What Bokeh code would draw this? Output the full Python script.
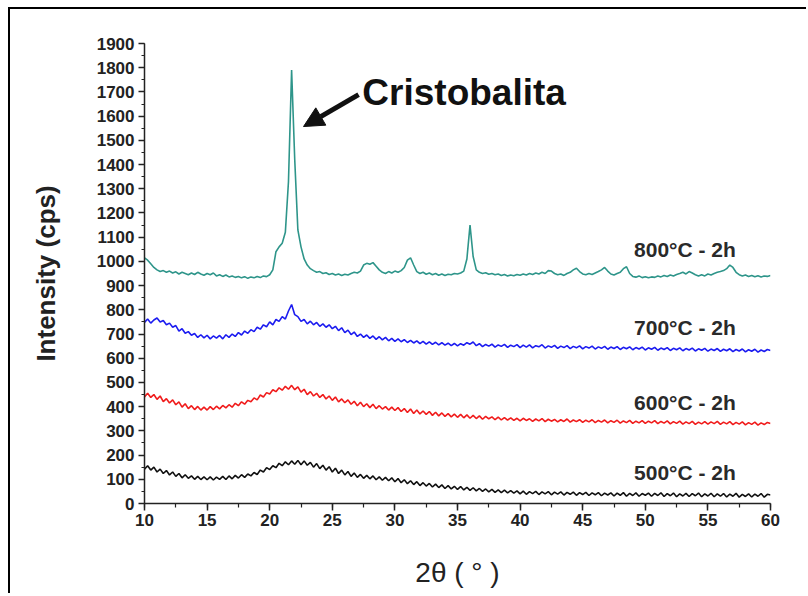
import numpy as np
from bokeh.plotting import figure
from bokeh.models import Arrow, NormalHead, Label, SingleIntervalTicker, Range1d
from bokeh.embed import file_html
from bokeh.resources import INLINE

# 2-theta grid (degrees), 10 to 60 in 0.25 steps
two_theta = [round(10 + 0.25 * i, 2) for i in range(201)]

# intensities (cps)
i_800 = [
    1015,1005,990,975,965,958,962,955,960,952,957,948,955,950,945,952,946,955,948,943,
    950,945,952,940,945,938,944,936,940,934,938,932,937,930,936,932,938,933,940,937,
    945,965,1040,1060,1075,1120,1330,1790,1420,1130,1060,1010,985,970,962,955,958,950,953,946,
    950,944,948,942,947,944,950,955,952,960,985,992,988,995,980,965,955,950,958,952,
    960,955,962,975,1005,1015,985,958,950,955,947,952,945,950,943,948,942,947,945,950,
    948,952,960,1010,1150,1020,965,955,950,953,947,950,945,948,942,946,940,944,941,946,
    943,948,944,950,946,952,948,955,950,962,960,950,945,948,942,950,955,965,972,958,
    948,945,950,946,952,958,965,975,960,948,944,950,955,970,978,950,938,935,940,933,
    937,932,936,934,940,936,942,938,944,940,946,950,955,948,958,952,945,940,945,940,
    948,944,950,955,958,962,970,985,975,955,945,940,944,938,942,937,941,936,940,938,
    942]
i_700 = [
    748,762,745,758,766,750,756,738,745,728,735,712,722,703,710,695,702,686,697,684,
    695,680,692,683,694,680,697,686,700,690,706,696,712,703,718,710,728,720,738,730,
    750,738,760,752,772,762,795,822,780,772,752,760,742,753,738,748,732,742,728,738,
    722,732,714,726,706,716,698,708,690,700,686,696,682,692,678,689,676,686,672,682,
    670,680,668,677,665,674,663,672,660,670,658,668,657,666,655,664,654,662,652,661,
    651,660,654,664,658,667,652,660,648,657,650,658,646,655,649,657,645,654,648,656,
    644,654,646,655,643,652,647,656,642,651,645,653,641,650,644,652,640,649,643,651,
    639,648,642,650,638,647,641,649,637,646,640,648,636,645,639,647,635,644,638,646,
    634,643,637,645,633,642,636,644,632,641,635,643,631,640,634,642,630,639,633,641,
    629,638,632,640,628,637,631,639,627,636,630,638,626,635,629,637,625,634,628,636,
    632]
i_600 = [
    440,455,438,450,430,444,421,433,415,428,408,420,398,412,392,404,388,401,386,398,
    386,400,388,402,391,405,395,408,398,414,404,420,410,426,420,436,428,448,440,458,
    452,470,462,478,468,484,472,488,470,482,460,472,450,462,444,455,438,450,432,444,
    426,440,420,432,416,428,410,422,404,418,400,412,396,410,392,404,390,400,386,398,
    384,396,380,392,376,390,372,386,370,382,368,380,364,377,362,374,360,371,358,369,
    356,368,354,366,352,364,351,362,348,360,350,358,346,357,345,355,344,354,343,352,
    341,352,343,350,339,349,341,351,338,348,340,347,337,346,339,349,336,345,338,346,
    335,344,337,346,334,343,336,345,333,342,335,344,332,341,334,343,331,340,333,342,
    331,340,333,342,330,339,332,341,329,338,331,340,328,337,330,339,327,336,329,338,
    328,337,330,339,327,336,329,338,326,335,328,337,325,334,327,336,324,333,326,335,
    330]
i_500 = [
    142,156,138,150,130,142,124,136,118,130,112,124,106,119,104,114,100,112,99,110,
    98,110,97,109,100,112,99,114,102,116,105,119,108,122,114,128,120,138,130,148,
    140,156,148,166,156,172,160,176,162,178,160,176,158,170,150,165,144,158,138,152,
    130,146,124,138,118,132,112,126,108,120,104,116,102,114,98,110,96,108,94,106,
    90,103,86,98,82,94,78,90,74,86,72,83,68,80,66,77,62,74,60,71,
    58,70,56,67,54,65,52,62,50,60,48,58,46,56,45,55,44,53,43,52,
    40,51,38,49,41,50,37,48,40,49,36,47,39,48,35,46,38,47,34,45,
    37,46,33,44,36,45,32,43,35,44,31,43,34,45,30,42,33,44,30,41,
    34,43,30,42,33,44,29,41,32,43,28,40,31,42,29,41,32,43,28,40,
    31,42,28,40,30,41,27,39,30,42,26,38,29,40,27,39,30,41,26,38,
    35]

series_names = ["800°C - 2h", "700°C - 2h", "600°C - 2h", "500°C - 2h"]
series_values = [i_800, i_700, i_600, i_500]
series_colors = ["#2e958a", "#1c1cf0", "#f01c1c", "#111111"]
label_x = [49.1, 49.1, 49.1, 49.1]
label_y = [1049, 727, 417, 128]

annot_text = "Cristobalita"
annot_pos = (27.4, 1698)
arrow_tail = (27.1, 1689)
arrow_head = (22.7, 1557)

FONT = "Liberation Sans"

p = figure(width=798, height=586, output_backend="svg", toolbar_location=None,
           x_range=Range1d(10, 60), y_range=Range1d(0, 1900),
           min_border_left=134, min_border_right=38, min_border_top=34, min_border_bottom=92)
p.styles = {"border-left": "2px solid black", "border-top": "2px solid black",
            "margin-left": "8px", "margin-top": "7px"}
p.outline_line_color = None
p.xgrid.visible = False
p.ygrid.visible = False
p.background_fill_color = "white"

for vals, col in zip(series_values, series_colors):
    p.line(two_theta, vals, line_color=col, line_width=1.6)

for name, lx, ly in zip(series_names, label_x, label_y):
    p.add_layout(Label(x=lx, y=ly, text=name, text_font=FONT, text_font_style="bold",
                       text_font_size="21px", text_color="#2a2a2a", text_baseline="middle"))

p.add_layout(Label(x=annot_pos[0], y=annot_pos[1], text=annot_text, text_font=FONT,
                   text_font_style="bold", text_font_size="37px", text_color="#111111",
                   text_baseline="middle"))
p.add_layout(Arrow(x_start=arrow_tail[0], y_start=arrow_tail[1], x_end=arrow_head[0], y_end=arrow_head[1],
                   line_width=5, line_color="#111111",
                   end=NormalHead(size=20, fill_color="#111111", line_color="#111111")))

p.xaxis.ticker = SingleIntervalTicker(interval=5, num_minor_ticks=2)
p.yaxis.ticker = SingleIntervalTicker(interval=100, num_minor_ticks=2)
for ax in (p.xaxis[0], p.yaxis[0]):
    ax.axis_line_color = "#222222"
    ax.axis_line_width = 1.5
    ax.major_tick_line_color = "#222222"
    ax.minor_tick_line_color = "#222222"
    ax.major_tick_line_width = 1.5
    ax.minor_tick_line_width = 1.2
    ax.major_tick_in = 0
    ax.minor_tick_in = 0
    ax.major_label_text_font = FONT
    ax.major_label_text_font_style = "bold"
    ax.major_label_text_font_size = "17px"
    ax.major_label_text_color = "#222222"
    ax.axis_label_text_font = FONT
    ax.axis_label_text_font_style = "bold"
    ax.axis_label_text_color = "#222222"

p.yaxis.major_tick_out = 6
p.yaxis.minor_tick_out = 3
p.xaxis.major_tick_out = 7
p.xaxis.minor_tick_out = 4
p.yaxis.major_label_standoff = 4
p.xaxis.major_label_standoff = 3
p.yaxis.axis_label = "Intensity (cps)"
p.yaxis.axis_label_text_font_size = "26px"
p.yaxis.axis_label_standoff = 33
p.xaxis.axis_label = "2θ ( ° )"
p.xaxis.axis_label_text_font_size = "28px"
p.xaxis.axis_label_text_font_style = "normal"
p.xaxis.axis_label_standoff = 28

open("out.html", "w").write(file_html(p, INLINE))
